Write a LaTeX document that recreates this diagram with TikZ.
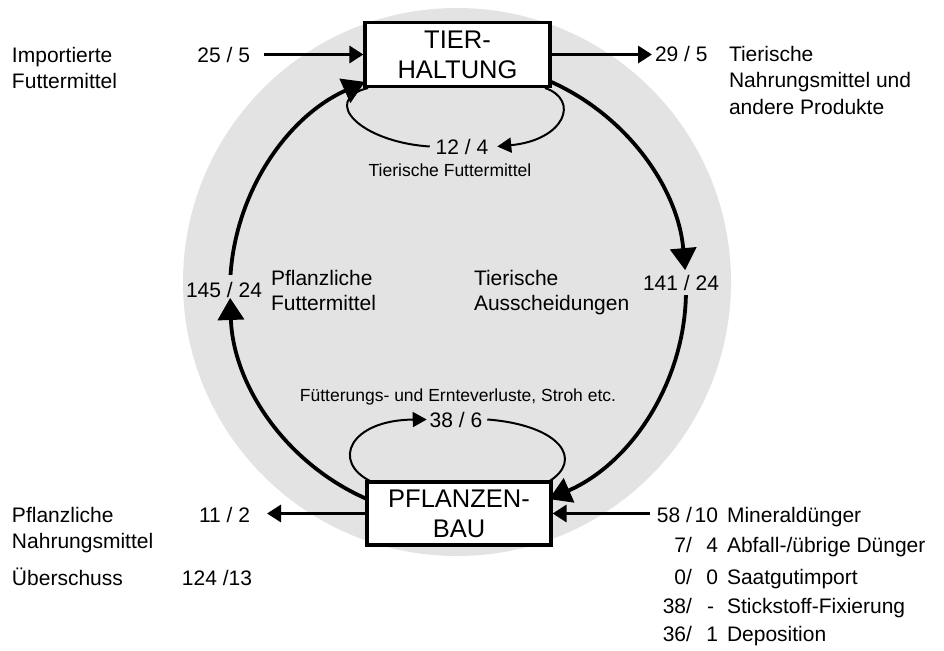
\documentclass[tikz,border=0pt]{standalone}
\usepackage{fontspec}
\setmainfont{Liberation Sans}
\usetikzlibrary{arrows.meta}
\tikzset{
  lbl/.style={font=\fontsize{21}{25}\selectfont, inner sep=0pt, outer sep=0pt},
  sml/.style={font=\fontsize{17.5}{21}\selectfont, inner sep=0pt, outer sep=0pt},
  boxn/.style={draw, line width=3.2pt, fill=white, minimum width=185pt, minimum height=64pt, inner sep=0pt, align=center, font=\fontsize{25.5}{30}\selectfont},
  bigflow/.style={line width=3.8pt, -{Triangle[length=22pt,width=26pt]}},
  hflow/.style={line width=3.2pt, -{Triangle[length=14pt,width=17pt]}},
  loopline/.style={line width=2pt},
  loopflow/.style={line width=2pt, -{Triangle[length=14pt,width=15pt]}},
}
\begin{document}
\begin{tikzpicture}[x=1pt,y=-1pt]
\useasboundingbox (0,0) rectangle (944,650);
\fill[black!11] (457,282) circle[radius=274];
\coordinate (C) at (458,290);

% boxes
\node[boxn] (tier) at (457.5,54.5) {TIER-\\HALTUNG};
\node[boxn, minimum width=184pt, minimum height=63pt] (pfl) at (459,513.5) {PFLANZEN-\\BAU};

% big cycle
\path (C) ++(113.5:228) coordinate (lb);
\path (C) ++(183.8:228) coordinate (lm);
\path (C) ++(-65.9:228) coordinate (rt);
\path (C) ++(1.3:228) coordinate (rm);
\draw[bigflow] (lb) arc[start angle=113.5, end angle=178, radius=228];
\draw[bigflow] (lm) arc[start angle=183.8, end angle=245.9, radius=228];
\draw[bigflow] (rt) arc[start angle=-65.9, end angle=-5, radius=228];
\draw[bigflow] (rm) arc[start angle=1.3, end angle=66.5, radius=228];

\node[lbl] (n145) at (224,290) {145 / 24};
\node[lbl] (n141) at (681,283) {141 / 24};
\node[lbl, anchor=base west] (pf1) at (271,285) {Pflanzliche};
\node[lbl, anchor=base west] (pf2) at (271,310) {Futtermittel};
\node[lbl, anchor=base west] (ta1) at (474,285) {Tierische};
\node[lbl, anchor=base west] (ta2) at (474,310) {Ausscheidungen};

% top inputs / outputs
\node[lbl, anchor=base west] (imp1) at (12,63) {Importierte};
\node[lbl, anchor=base west] (imp2) at (12,89) {Futtermittel};
\node[lbl, anchor=base east] (n25) at (250,63) {25 / 5};
\coordinate (a25) at (264,54.5);
\draw[hflow] (a25) -- (tier.west);
\coordinate (a29) at (652,54.5);
\draw[hflow] (tier.east) -- (a29);
\node[lbl, anchor=base west] (n29) at (655,62) {29 / 5};
\node[lbl, anchor=base west] (tn1) at (729,62) {Tierische};
\node[lbl, anchor=base west] (tn2) at (729,88) {Nahrungsmittel und};
\node[lbl, anchor=base west] (tn3) at (729,114) {andere Produkte};

% top loop
\node[lbl, anchor=base] (n12) at (462,154) {12 / 4};
\node[sml, anchor=base] (tf) at (450,176) {Tierische Futtermittel};
\coordinate (l1s) at (545,88);
\coordinate (l1e) at (368,88);
\draw[loopflow] (l1s) .. controls (580,100) and (565,140) .. ([xshift=9pt]n12.east);
\draw[loopline] ([xshift=-6pt]n12.west) .. controls (360,142) and (320,100) .. (l1e);

% bottom loop
\node[sml, anchor=base] (fe) at (458,401) {Fütterungs- und Ernteverluste, Stroh etc.};
\node[lbl, anchor=base] (n38) at (456,427) {38 / 6};
\coordinate (l2s) at (372,482);
\coordinate (l2e) at (548,482);
\draw[loopflow] (l2s) .. controls (330,462) and (350,420) .. ([xshift=-3pt]n38.west);
\draw[loopline] ([xshift=5pt]n38.east) .. controls (560,425) and (585,460) .. (l2e);

% bottom left
\coordinate (a11) at (267,513.5);
\draw[hflow] (pfl.west) -- (a11);
\node[lbl, anchor=base east] (n11) at (250,522) {11 / 2};
\node[lbl, anchor=base west] (pn1) at (12,522) {Pflanzliche};
\node[lbl, anchor=base west] (pn2) at (12,548) {Nahrungsmittel};
\node[lbl, anchor=base west] (ue) at (12,585) {Überschuss};
\node[lbl, anchor=base east] (n124) at (252,585) {124 /13};

% bottom right
\coordinate (a58) at (650,513.5);
\draw[hflow] (a58) -- (pfl.east);
\node[lbl, anchor=base east] (r1a) at (692,522) {58 /};
\node[lbl, anchor=base east] (r1b) at (718,522) {10};
\node[lbl, anchor=base west] (r1c) at (727,522) {Mineraldünger};
\node[lbl, anchor=base east] (r2a) at (692,552) {7/};
\node[lbl, anchor=base east] (r2b) at (718,552) {4};
\node[lbl, anchor=base west] (r2c) at (727,552) {Abfall-/übrige Dünger};
\node[lbl, anchor=base east] (r3a) at (692,584) {0/};
\node[lbl, anchor=base east] (r3b) at (718,584) {0};
\node[lbl, anchor=base west] (r3c) at (727,584) {Saatgutimport};
\node[lbl, anchor=base east] (r4a) at (692,613) {38/};
\node[lbl, anchor=base east] (r4b) at (714,613) {-};
\node[lbl, anchor=base west] (r4c) at (727,613) {Stickstoff-Fixierung};
\node[lbl, anchor=base east] (r5a) at (692,641) {36/};
\node[lbl, anchor=base east] (r5b) at (718,641) {1};
\node[lbl, anchor=base west] (r5c) at (727,641) {Deposition};
\end{tikzpicture}
\end{document}
